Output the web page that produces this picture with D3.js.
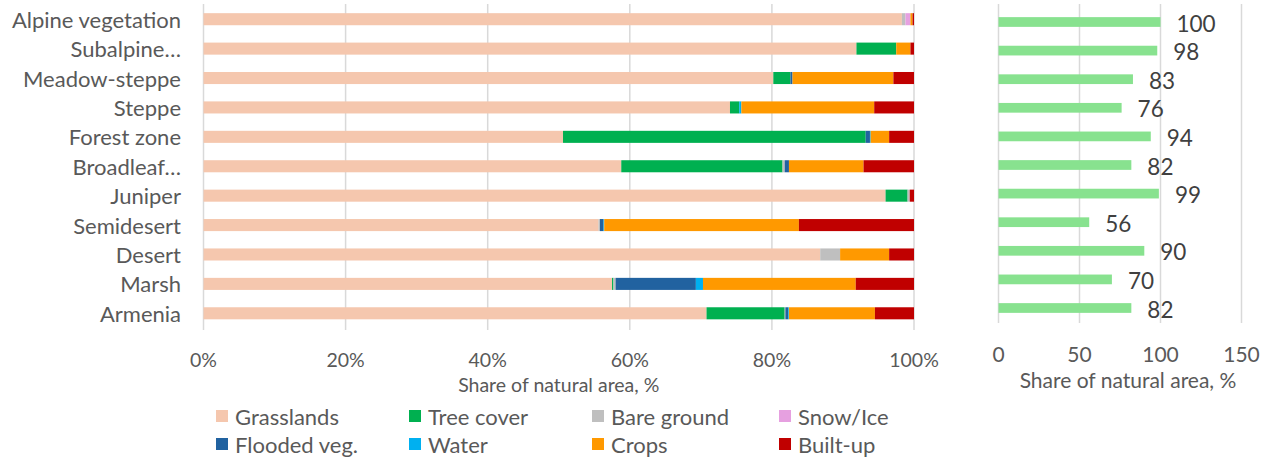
<!DOCTYPE html>
<html><head><meta charset="utf-8">
<script src="https://cdn.jsdelivr.net/npm/d3@7"></script>
<style>
html,body{margin:0;padding:0;background:#fff;}
text{font-family:Lato,"Open Sans",sans-serif;fill:#595959;}
</style></head><body>
<svg id="chart" width="1271" height="459"></svg>
<script>
const categories = ["Alpine vegetation","Subalpine…","Meadow-steppe","Steppe","Forest zone","Broadleaf…","Juniper","Semidesert","Desert","Marsh","Armenia"];
const seriesNames = ["Grasslands","Tree cover","Bare ground","Snow/Ice","Flooded veg.","Water","Crops","Built-up"];
const grasslands = [98.3, 91.9, 80.2, 74.1, 50.6, 58.8, 96.0, 55.6, 86.8, 57.5, 70.8];
const treeCover  = [0, 5.6, 2.4, 1.3, 42.6, 22.7, 3.1, 0, 0, 0.2, 11.0];
const bareGround = [0.5, 0, 0, 0, 0, 0.3, 0.3, 0.2, 2.8, 0.3, 0.1];
const snowIce    = [0.7, 0, 0, 0, 0, 0, 0, 0, 0, 0, 0];
const floodedVeg = [0, 0, 0.3, 0, 0.6, 0.6, 0, 0.5, 0, 11.3, 0.4];
const water      = [0, 0, 0, 0.3, 0.1, 0, 0, 0.1, 0, 1.0, 0.1];
const crops      = [0.3, 2.0, 14.2, 18.7, 2.6, 10.5, 0, 27.4, 6.9, 21.5, 12.1];
const builtUp    = [0.2, 0.5, 2.9, 5.6, 3.5, 7.1, 0.6, 16.2, 3.5, 8.2, 5.5];
const naturalShare = [100, 98, 83, 76, 94, 82, 99, 56, 90, 70, 82];
const leftTicks = [0, 0.2, 0.4, 0.6, 0.8, 1.0];
const rightTicks = [0, 50, 100, 150];
const axisTitle = "Share of natural area, %";

const colors = ["#F5C7AE","#00B050","#BFBFBF","#E6A0E0","#2162A0","#00B0F0","#FF9900","#C00000"];
const seriesArrays = [grasslands, treeCover, bareGround, snowIce, floodedVeg, water, crops, builtUp];

const rows = categories.map((c, i) => {
  const o = {cat: c};
  seriesNames.forEach((s, j) => o[s] = seriesArrays[j][i]);
  return o;
});

const svg = d3.select("#chart");
const grid = "#D9D9D9";

// ---------- Left chart ----------
const x = d3.scaleLinear().domain([0, 1]).range([203.5, 914]);
const y = d3.scaleBand().domain(categories).range([4.5, 328]).paddingInner(0.59).paddingOuter(0.295);

const gL = svg.append("g");
gL.selectAll("line.grid").data(leftTicks).join("line")
  .attr("x1", d => x(d)).attr("x2", d => x(d))
  .attr("y1", 4).attr("y2", 330)
  .attr("stroke", grid).attr("stroke-width", 1.5);

const stack = d3.stack().keys(seriesNames).offset(d3.stackOffsetExpand);
const stacked = stack(rows);
gL.selectAll("g.series").data(stacked).join("g")
  .attr("fill", (d, i) => colors[i])
  .selectAll("rect").data(d => d).join("rect")
  .attr("x", d => x(d[0]))
  .attr("width", d => Math.max(0, x(d[1]) - x(d[0])))
  .attr("y", d => y(d.data.cat))
  .attr("height", y.bandwidth());

gL.selectAll("text.cat").data(categories).join("text")
  .attr("x", 181).attr("y", d => y(d) + y.bandwidth() / 2)
  .attr("text-anchor", "end").attr("dominant-baseline", "central")
  .attr("font-size", 22).text(d => d);

gL.selectAll("text.tick").data(leftTicks).join("text")
  .attr("x", d => x(d)).attr("y", 359)
  .attr("text-anchor", "middle").attr("dominant-baseline", "central")
  .attr("font-size", 19.5).text(d => d3.format(".0%")(d));

gL.append("text").attr("x", (x(0) + x(1)) / 2).attr("y", 384)
  .attr("text-anchor", "middle").attr("dominant-baseline", "central")
  .attr("font-size", 19.5).text(axisTitle);

// Legend
const legCols = [222, 415, 598, 785];
const leg = svg.append("g");
const items = leg.selectAll("g").data(seriesNames).join("g")
  .attr("transform", (d, i) => `translate(${legCols[i % 4]},${i < 4 ? 416 : 444})`);
items.append("rect").attr("x", -6).attr("y", -6).attr("width", 12).attr("height", 12)
  .attr("fill", (d, i) => colors[i]);
items.append("text").attr("x", 13).attr("y", 0).attr("dominant-baseline", "central")
  .attr("font-size", 22).text(d => d);

// ---------- Right chart ----------
const x2 = d3.scaleLinear().domain([0, 150]).range([998.5, 1241.5]);
const y2 = d3.scaleBand().domain(categories).range([7.7, 322.3]).paddingInner(0.66).paddingOuter(0.33);

const gR = svg.append("g");
gR.selectAll("line.grid").data(rightTicks).join("line")
  .attr("x1", d => x2(d)).attr("x2", d => x2(d))
  .attr("y1", 4).attr("y2", 323)
  .attr("stroke", grid).attr("stroke-width", 1.5);

gR.selectAll("rect").data(naturalShare).join("rect")
  .attr("x", x2(0)).attr("y", (d, i) => y2(categories[i]))
  .attr("width", d => x2(d) - x2(0)).attr("height", y2.bandwidth())
  .attr("fill", "#88E28F");

gR.selectAll("text.val").data(naturalShare).join("text")
  .attr("x", d => x2(d) + 16).attr("y", (d, i) => y2(categories[i]) + y2.bandwidth() / 2 + 1)
  .attr("dominant-baseline", "central")
  .attr("font-size", 22.5).style("fill", "#404040").text(d => d);

gR.selectAll("text.tick").data(rightTicks).join("text")
  .attr("x", d => x2(d)).attr("y", 353)
  .attr("text-anchor", "middle").attr("dominant-baseline", "central")
  .attr("font-size", 21).text(d => d);

gR.append("text").attr("x", 1128).attr("y", 379)
  .attr("text-anchor", "middle").attr("dominant-baseline", "central")
  .attr("font-size", 21).text(axisTitle);
</script>
</body></html>
